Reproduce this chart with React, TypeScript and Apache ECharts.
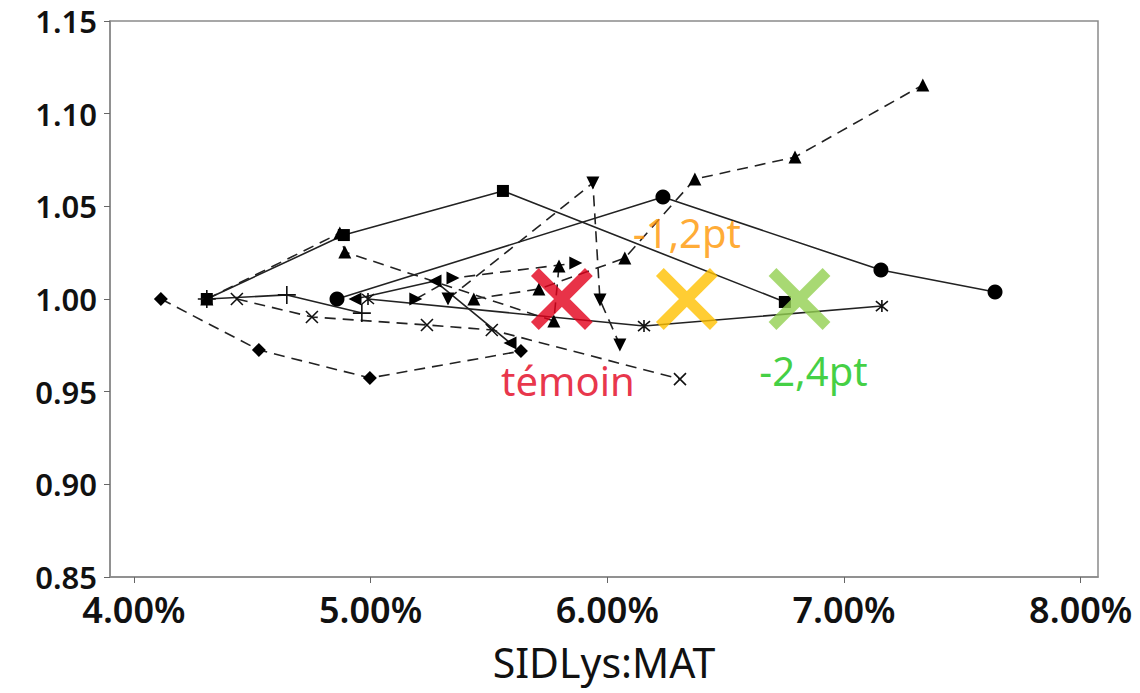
import React, { useEffect, useRef } from "react";
import * as echarts from "echarts";

// SIDLys:MAT (%) and relative response, one trial per series
const sDiamond = [[4.114, 1.0], [4.528, 0.9725], [4.997, 0.9574], [5.635, 0.9719]];
const sSquare = [[4.308, 1.0], [4.887, 1.0345], [5.559, 1.0583], [6.75, 0.9984]];
const sCircle = [[4.858, 1.0], [6.235, 1.055], [7.156, 1.0156], [7.638, 1.0038]];
const sAsterisk = [[4.989, 1.0], [6.155, 0.9854], [7.16, 0.9962]];
const sCross = [[4.435, 1.0], [4.752, 0.9903], [5.238, 0.986], [5.512, 0.9833], [6.307, 0.9568]];
const sTriUpLong = [[5.436, 1.0], [5.711, 1.0054], [6.074, 1.0221], [6.37, 1.0647], [6.793, 1.0766], [7.333, 1.1155]];
const sTriDown = [[5.327, 1.0], [5.939, 1.0626], [5.969, 0.9995], [6.053, 0.9752]];
const sPlus = [[4.308, 1.0], [4.646, 1.0022], [4.963, 0.9924]];
const sTriUp = [[4.308, 1.0], [4.87, 1.0356], [4.891, 1.0254], [5.774, 0.9881], [5.796, 1.0178]];
const sTriLeft = [[4.934, 1.0], [5.272, 1.0097], [5.589, 0.9763]];
const sTriRight = [[5.191, 1.0], [5.348, 1.0113], [5.867, 1.0194]];

const xTicks = [4, 5, 6, 7, 8];
const targets = [
  { name: "témoin", x: 5.808, y: 1.0, color: "#E2001A", text: "#E2001A", off: [6, 81] },
  { name: "-1,2pt", x: 6.336, y: 1.0, color: "#FFC000", text: "#FF9500", off: [0, -67] },
  { name: "-2,4pt", x: 6.812, y: 1.0, color: "#92D050", text: "#12C412", off: [14, 71] },
];

const X_PATH = "path://M0,0L10,10M10,0L0,10";
const PLUS_PATH = "path://M5,0L5,10M0,5L10,5";
const AST_PATH = "path://M0,0L10,10M10,0L0,10M5,-1L5,11";

function lineSeries(data: number[][], symbol: string, dashed: boolean, opts: any = {}) {
  const stroked = symbol.startsWith("path://");
  return {
    type: "line",
    data,
    symbol,
    symbolSize: opts.size ?? 13,
    symbolRotate: opts.rotate ?? 0,
    lineStyle: { color: "#222", width: 1.6, type: dashed ? [11, 7] : "solid" },
    itemStyle: stroked
      ? { color: "rgba(0,0,0,0)", borderColor: "#111", borderWidth: 1.6 }
      : { color: "#000", borderWidth: 0 },
    emphasis: { disabled: true },
    z: 3,
  };
}

export default function App() {
  const ref = useRef<HTMLDivElement>(null);
  useEffect(() => {
    document.body.style.margin = "0";
    const chart = echarts.init(ref.current!, null, { renderer: "svg" });
    chart.setOption({
      animation: false,
      backgroundColor: "#fff",
      grid: { left: 110, right: 42, top: 21, bottom: 116, show: true, borderColor: "#8a8a8a", borderWidth: 1.5 },
      xAxis: {
        type: "value",
        min: 3.899,
        max: 8.073,
        name: "SIDLys:MAT",
        nameLocation: "middle",
        nameGap: 64,
        nameTextStyle: { fontFamily: "Noto Sans", fontSize: 41, color: "#111" },
        splitLine: { show: false },
        axisLine: { lineStyle: { color: "#8a8a8a", width: 1.5 } },
        axisTick: { show: true, length: 6, lineStyle: { color: "#666" }, customValues: xTicks },
        axisLabel: {
          customValues: xTicks,
          margin: 15,
          lineHeight: 34,
          fontFamily: "Noto Sans",
          fontSize: 36,
          fontWeight: 600,
          color: "#111",
          formatter: (v: number) => v.toFixed(2) + "%",
        },
      },
      yAxis: {
        type: "value",
        min: 0.85,
        max: 1.15,
        interval: 0.05,
        splitLine: { show: false },
        axisLine: { show: true, lineStyle: { color: "#8a8a8a", width: 1.5 } },
        axisTick: { show: true, length: 6, lineStyle: { color: "#666" } },
        axisLabel: {
          margin: 13,
          lineHeight: 26,
          fontFamily: "Noto Sans",
          fontSize: 31,
          fontWeight: 600,
          color: "#111",
          formatter: (v: number) => v.toFixed(2),
        },
      },
      series: [
        lineSeries(sDiamond, "diamond", true, { size: 14 }),
        lineSeries(sSquare, "rect", false, { size: 12 }),
        lineSeries(sCircle, "circle", false, { size: 15 }),
        lineSeries(sAsterisk, AST_PATH, false, { size: 12 }),
        lineSeries(sCross, X_PATH, true, { size: 12 }),
        lineSeries(sTriUpLong, "triangle", true, { size: 13 }),
        lineSeries(sTriDown, "triangle", true, { size: 13, rotate: 180 }),
        lineSeries(sPlus, PLUS_PATH, false, { size: 18 }),
        lineSeries(sTriUp, "triangle", true, { size: 13 }),
        lineSeries(sTriLeft, "triangle", false, { size: 13, rotate: 90 }),
        lineSeries(sTriRight, "triangle", true, { size: 13, rotate: -90 }),
        {
          type: "scatter",
          data: targets.map((t) => ({
            value: [t.x, t.y],
            itemStyle: { color: "rgba(0,0,0,0)", borderColor: t.color, borderWidth: 11 },
            label: {
              show: true,
              formatter: t.name,
              position: "inside",
              offset: t.off,
              fontFamily: "Noto Sans",
              fontSize: 40,
              color: t.text,
            },
          })),
          symbol: X_PATH,
          symbolSize: 54,
          emphasis: { disabled: true },
          z: 10,
        },
      ],
    });
    return () => chart.dispose();
  }, []);
  return <div ref={ref} style={{ width: 1140, height: 693 }} />;
}
